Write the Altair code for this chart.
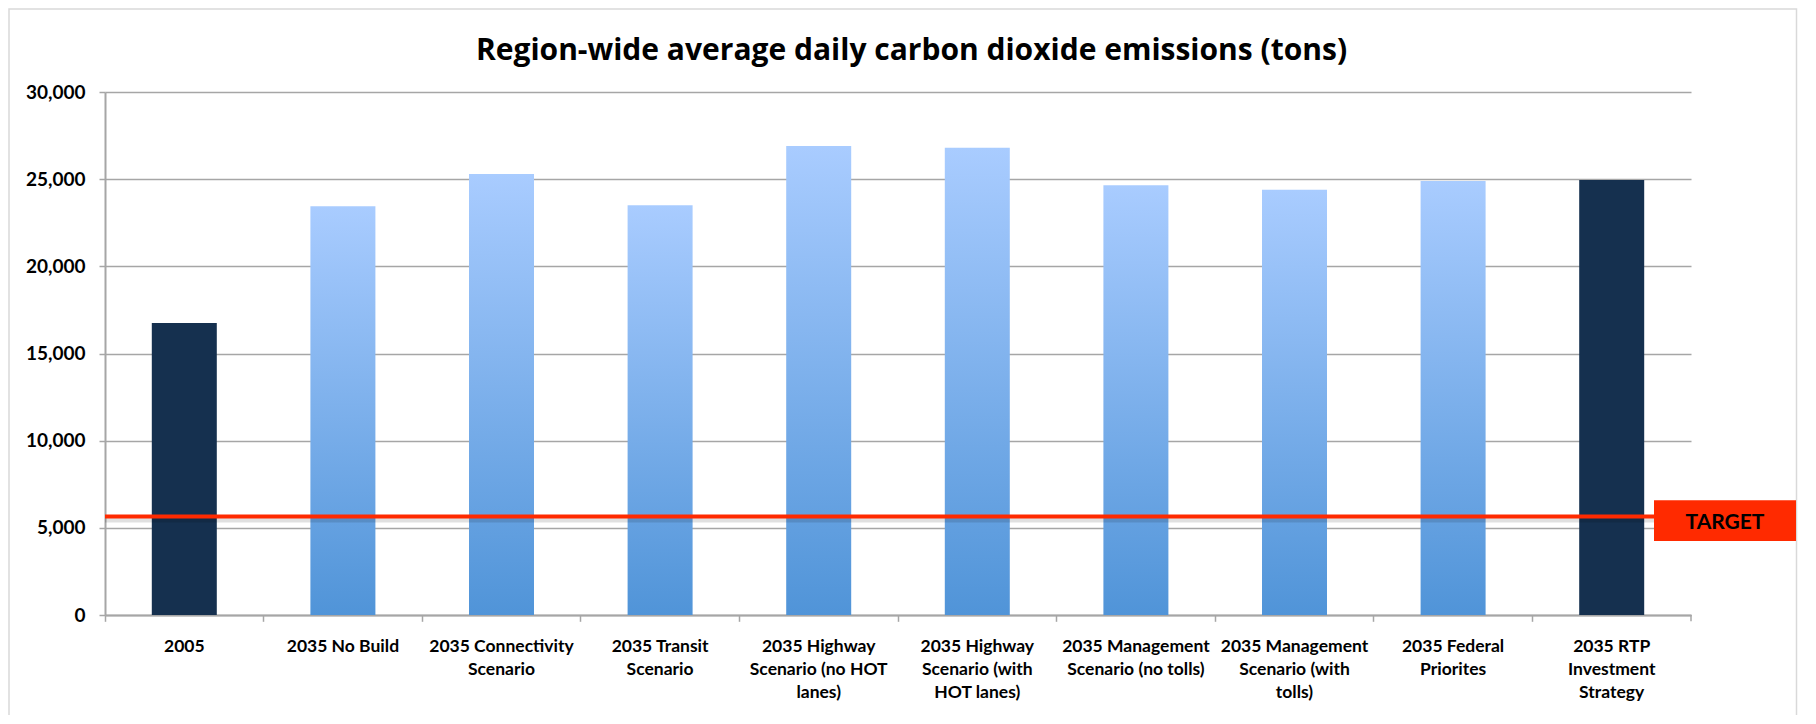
import altair as alt
import pandas as pd

categories = [
    "2005",
    "2035 No Build",
    "2035 Connectivity\nScenario",
    "2035 Transit\nScenario",
    "2035 Highway\nScenario (no HOT\nlanes)",
    "2035 Highway\nScenario (with\nHOT lanes)",
    "2035 Management\nScenario (no tolls)",
    "2035 Management\nScenario (with\ntolls)",
    "2035 Federal\nPriorites",
    "2035 RTP\nInvestment\nStrategy",
]
emissions = [16750, 23450, 25300, 23500, 26900, 26800, 24650, 24400, 24900, 24950]
bar_group = ["dark", "light", "light", "light", "light", "light", "light", "light", "light", "dark"]
target_value = [5650]
target_label = ["TARGET"]
y_ticks = [0, 5000, 10000, 15000, 20000, 25000, 30000]

df = pd.DataFrame({"scenario": categories, "emissions": emissions, "group": bar_group})
tdf = pd.DataFrame({"target": target_value, "label": target_label})
end_df = pd.DataFrame({"scenario": [categories[-1]]})

W, H = 1586, 523
GRAY = "#A6A6A6"
FONT = "Lato"

x_enc = alt.X(
    "scenario:N",
    sort=categories,
    scale=alt.Scale(domain=categories, paddingInner=0, paddingOuter=0),
    axis=alt.Axis(
        title=None,
        labelAngle=0,
        bandPosition=0,
        labelExpr="split(datum.label, '\\n')",
        labelFont=FONT,
        labelFontWeight="bold",
        labelFontSize=17.5,
        labelColor="black",
        labelLineHeight=23.3,
        labelPadding=16,
        labelLimit=400,
        labelOverlap=False,
        labelBound=False,
        labelFlush=False,
        tickSize=6.3,
        tickColor=GRAY,
        tickWidth=1.5,
        domainColor=GRAY,
        domainWidth=2,
        grid=False,
    ),
)
y_enc = alt.Y(
    "emissions:Q",
    scale=alt.Scale(domain=[0, 30000], nice=False),
    axis=alt.Axis(
        title=None,
        values=y_ticks,
        format=",d",
        grid=True,
        gridColor=GRAY,
        gridWidth=1.5,
        tickSize=6,
        tickColor=GRAY,
        tickWidth=1.5,
        domainColor=GRAY,
        domainWidth=2,
        labelFont=FONT,
        labelFontWeight="bold",
        labelFontSize=19,
        labelColor="black",
        labelPadding=14,
    ),
)

light_grad = alt.Gradient(
    gradient="linear",
    stops=[alt.GradientStop(color="#A9CCFF", offset=0), alt.GradientStop(color="#5094D8", offset=1)],
    x1=0, x2=0, y1=0, y2=1,
)

frame = alt.Chart(tdf).mark_rect(fill="transparent", stroke="#D9D9D9", strokeWidth=1.5).encode(
    x=alt.value(-96), x2=alt.value(1691.5), y=alt.value(-83), y2=alt.value(640)
)

light_bars = alt.Chart(df).transform_filter(alt.datum.group == "light").mark_bar(color=light_grad, width=65).encode(
    x=x_enc, y=y_enc
)
dark_bars = alt.Chart(df).transform_filter(alt.datum.group == "dark").mark_bar(color="#15304F", width=65).encode(
    x=x_enc, y=y_enc
)

end_tick = alt.Chart(end_df).mark_rule(color=GRAY, strokeWidth=1.5).encode(
    x=alt.X("scenario:N", sort=categories, bandPosition=1),
    y=alt.value(H),
    y2=alt.value(H + 6.3),
)

shadow = alt.Chart(tdf).mark_rule(color="#000000", opacity=0.12, strokeWidth=6, yOffset=3).encode(
    y=alt.Y("target:Q")
)
target_rule = alt.Chart(tdf).mark_rule(color="#FF2A00", strokeWidth=4).encode(y=alt.Y("target:Q"))

target_box = alt.Chart(tdf).mark_rect(color="#FF2A00", yOffset=-16.2, y2Offset=24.5).encode(
    x=alt.value(1549), x2=alt.value(1691), y=alt.Y("target:Q"), y2="target:Q"
)
target_text = alt.Chart(tdf).mark_text(
    font=FONT, fontWeight="bold", fontSize=21, color="black", align="center", baseline="middle", dy=6
).encode(x=alt.value(1620), y=alt.Y("target:Q"), text="label:N")

chart = (
    alt.layer(frame, light_bars, dark_bars, end_tick, shadow, target_rule, target_box, target_text)
    .properties(
        width=W,
        height=H,
        padding={"left": 97, "top": 84, "right": 117, "bottom": 100},
        autosize=alt.AutoSizeParams(type="none"),
        title=alt.TitleParams(
            "Region-wide average daily carbon dioxide emissions (tons)",
            font="Open Sans",
            fontSize=30,
            fontWeight="bold",
            color="black",
            anchor="middle",
            frame="group",
            dx=13.5,
            baseline="alphabetic",
            offset=-81.5,
        ),
    )
    .configure_view(stroke=None)
)

chart.save("out.html", embed_options={"renderer": "svg", "actions": False})
